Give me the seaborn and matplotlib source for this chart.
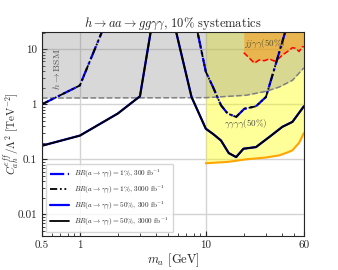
import matplotlib
matplotlib.use("Agg")
import matplotlib.pyplot as plt
from matplotlib.ticker import FixedLocator, FixedFormatter, NullFormatter, LogLocator
import seaborn as sns
import pandas as pd

# --- data ---
m_dashdot = [0.5, 1.0, 1.6, 8.3, 10, 11.4, 13.2, 14.9, 17.4, 20.2, 25, 30, 36, 43]
c_dashdot = [1.0, 2.2, 30, 30, 3.9, 2.06, 0.96, 0.68, 0.59, 0.83, 0.92, 1.36, 5.5, 22]

m_solid = [0.5, 1.0, 2.0, 3.0, 3.7, 5.7, 7.7, 10, 11.4, 13.2, 15.2, 17.4, 19.9, 25, 31.9, 40.5, 48.7, 60]
c_solid = [0.177, 0.27, 0.68, 1.4, 25, 25, 1.36, 0.36, 0.29, 0.22, 0.13, 0.11, 0.156, 0.167, 0.255, 0.39, 0.48, 0.92]

m_bsm = [0.5, 10, 20.8, 30, 38.2, 48.7, 60]
c_bsm = [1.3, 1.32, 1.46, 1.72, 2.06, 2.73, 4.6]

m_4gam = [10, 15, 20.8, 30, 38.2, 45, 48.7, 55, 60]
c_4gam = [0.085, 0.09, 0.1, 0.108, 0.118, 0.135, 0.146, 0.2, 0.3]

m_jjgg = [20, 24.3, 26.5, 29.1, 31.9, 34.9, 38.2, 40.6, 44.5, 48.7, 51.8, 55, 58.4, 60]
c_jjgg = [8.7, 5.6, 6.4, 6.2, 6.7, 6.1, 6.9, 7.9, 9.1, 10.7, 10.4, 9.1, 11.2, 11.0]

y_top = 20.5

sns.set_style("ticks")
plt.rcParams["font.family"] = ["cmr10", "DejaVu Serif"]
plt.rcParams["mathtext.fontset"] = "cm"
plt.rcParams["axes.unicode_minus"] = False

fig = plt.figure(figsize=(3.38, 2.70), dpi=100)
ax = fig.add_axes([0.124, 0.127, 0.775, 0.754])

# shaded regions
ax.fill_between(m_4gam, c_4gam, y_top, color="yellow", alpha=0.4, lw=0)
ax.fill_between(m_bsm, c_bsm, y_top, color="gray", alpha=0.3, lw=0)
ax.fill_between(m_jjgg, c_jjgg, y_top, color="darkorange", alpha=0.45, lw=0)

ax.plot(m_bsm, c_bsm, color="gray", ls="--", lw=1.1)
ax.plot(m_4gam, c_4gam, color="orange", lw=1.5)
ax.plot(m_jjgg, c_jjgg, color="red", ls="--", lw=1.1)

df_dd = pd.DataFrame({"m": m_dashdot, "c": c_dashdot})
df_s = pd.DataFrame({"m": m_solid, "c": c_solid})

sns.lineplot(data=df_dd, x="m", y="c", ax=ax, color="blue", ls="-.", lw=1.6, sort=False,
             label=r"$BR(a\to\gamma\gamma)=1\%,\,300\ \mathrm{fb}^{-1}$")
sns.lineplot(data=df_dd, x="m", y="c", ax=ax, color="black", lw=1.3, sort=False,
             label=r"$BR(a\to\gamma\gamma)=1\%,\,3000\ \mathrm{fb}^{-1}$")
ax.lines[-1].set_linestyle((0, (4, 1.5, 1, 1.5, 1, 1.5)))
sns.lineplot(data=df_s, x="m", y="c", ax=ax, color="blue", lw=1.6, sort=False,
             label=r"$BR(a\to\gamma\gamma)=50\%,\,300\ \mathrm{fb}^{-1}$")
sns.lineplot(data=df_s, x="m", y="c", ax=ax, color="black", lw=1.3, sort=False,
             label=r"$BR(a\to\gamma\gamma)=50\%,\,3000\ \mathrm{fb}^{-1}$")

ax.set_xscale("log")
ax.set_yscale("log")
ax.set_xlim(0.5, 60)
ax.set_ylim(0.0041, y_top)

ax.xaxis.set_major_locator(FixedLocator([0.5, 1, 10, 60]))
ax.xaxis.set_major_formatter(FixedFormatter(["0.5", "1", "10", "60"]))
ax.xaxis.set_minor_locator(LogLocator(base=10, subs=range(2, 10)))
ax.xaxis.set_minor_formatter(NullFormatter())
ax.yaxis.set_major_locator(FixedLocator([0.01, 0.1, 1, 10]))
ax.yaxis.set_major_formatter(FixedFormatter(["0.01", "0.1", "1", "10"]))
ax.yaxis.set_minor_locator(LogLocator(base=10, subs=range(2, 10)))
ax.yaxis.set_minor_formatter(NullFormatter())
ax.tick_params(which="both", direction="in", labelsize=8)
ax.tick_params(which="major", length=3.5)
ax.tick_params(which="minor", length=2)

ax.grid(True, which="major", color="lightgray", lw=1)
ax.set_axisbelow(True)

ax.text(0.65, 4.3, r"$h\to\mathrm{BSM}$", rotation=90, ha="center", va="center",
        fontsize=7, color="#555555")
ax.text(20.8, 0.45, r"$\gamma\gamma\gamma\gamma(50\%)$", ha="center", va="center",
        fontsize=6.5, color="#444444")
ax.text(29.4, 12.7, r"$jj\gamma\gamma(50\%)$", ha="center", va="center",
        fontsize=6.5, color="#555533")

ax.set_title(r"$h\to aa\to gg\gamma\gamma$, 10% systematics", fontsize=9, pad=2)
ax.set_xlabel(r"$m_a$ [GeV]", fontsize=9, labelpad=1)
ax.set_ylabel(r"$C_{ah}^{eff}/\Lambda^2$ [TeV$^{-2}$]", fontsize=8, labelpad=1)
ax.yaxis.set_label_coords(-0.08, 0.5)

ax.legend(loc="lower left", fontsize=5.2, frameon=True, handlelength=2.6,
          borderpad=0.6, labelspacing=0.5, framealpha=0.8)

fig.savefig("out.png", dpi=100)
